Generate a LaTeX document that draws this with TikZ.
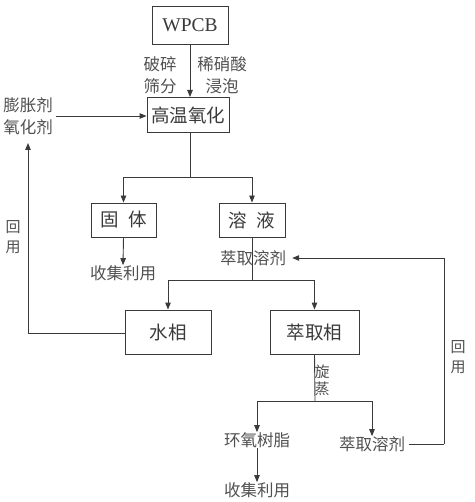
\documentclass[tikz,border=0pt]{standalone}
\usepackage{fontspec}
\setmainfont{Liberation Serif}
\newfontfamily\cjk{Noto Sans CJK SC}
\usetikzlibrary{arrows.meta}
\definecolor{inkgrey}{HTML}{3A3A3A}
\definecolor{textgrey}{HTML}{505050}
\begin{document}
\begin{tikzpicture}[x=1pt,y=-1pt,
        stagebox/.style={draw=inkgrey, line width=0.9pt, inner sep=0pt, align=center, text=inkgrey, font=\cjk\fontsize{18.5}{18.5}\selectfont},
        note/.style={inner sep=0pt, align=center, text=textgrey, font=\cjk\fontsize{16.5}{21.5}\selectfont},
        flow/.style={-{Triangle[length=7pt,width=5.5pt]}, draw=inkgrey, line width=0.9pt},
        wire/.style={draw=inkgrey, line width=0.9pt}]
        \useasboundingbox (0,0) rectangle (474,502);
        % Boxes
            \node[stagebox, minimum width=76pt, minimum height=38pt, font=\fontsize{19.5}{19.5}\selectfont] (wpcb) at (190,25) {WPCB};
            \node[stagebox, minimum width=82pt, minimum height=35pt] (oxid) at (188,115) {高温氧化};
            \node[stagebox, minimum width=65pt, minimum height=34pt] (solid) at (123.5,220) {固\hspace{0.5em}体};
            \node[stagebox, minimum width=66pt, minimum height=34pt] (soln) at (252,220) {溶\hspace{0.5em}液};
            \node[stagebox, minimum width=86pt, minimum height=44pt] (water) at (168,332) {水相};
            \node[stagebox, minimum width=89pt, minimum height=44pt] (extr) at (314.5,332) {萃取相};
        % Labels
            \node[note] (crush) at (160,75) {破碎\\筛分};
            \node[note] (acid) at (222,75) {稀硝酸\\浸泡};
            \node[note] (agent) at (28,116) {膨胀剂\\氧化剂};
            \node[note] (collectA) at (123,273) {收集利用};
            \node[note] (solvA) at (253,258) {萃取溶剂};
            \node[note, font=\cjk\fontsize{15}{17}\selectfont] (rotary) at (322,380) {旋\\蒸};
            \node[note] (resin) at (257,440) {环氧树脂};
            \node[note] (solvB) at (372,444) {萃取溶剂};
            \node[note] (collectB) at (257,490) {收集利用};
            \node[note, font=\cjk\fontsize{15}{20}\selectfont] (reuseL) at (13,237) {回\\用};
            \node[note, font=\cjk\fontsize{15}{20}\selectfont] (reuseR) at (458,357) {回\\用};
        % Split points
            \coordinate (splitA) at (190,177);
            \coordinate (splitB) at (252,280);
            \coordinate (splitC) at (315,401);
            \coordinate (turnL) at (28,333);
            \coordinate (turnR) at (444,444);
        % Flows
            \draw[flow] (wpcb.south -| 190,0) -- (190,97);
            \draw[flow] ([xshift=3pt]agent.east) -- (agent.east -| oxid.west);
            \draw[wire] (190,132) -- (splitA);
            \draw[flow] (splitA) -| (solid.north);
            \draw[flow] (splitA) -| (soln.north);
            \draw[flow] (solid.south) -- (collectA.north);
            \draw[wire] (soln.south) -- (splitB);
            \draw[flow] (splitB) -| (water.north);
            \draw[flow] (splitB) -| (extr.north);
            \draw[wire] (water.west |- turnL) -- (turnL);
            \draw[flow] (turnL) -- (28,143);
            \draw[wire] (extr.south) -- (splitC);
            \draw[flow] (splitC) -| (resin.north);
            \draw[flow] (splitC) -| (solvB.north);
            \draw[flow] (resin.south) -- (collectB.north);
            \draw[wire] ([xshift=4pt]solvB.east) -- (turnR);
            \draw[flow] (turnR) |- ([xshift=6pt]solvA.east);
\end{tikzpicture}
\end{document}
